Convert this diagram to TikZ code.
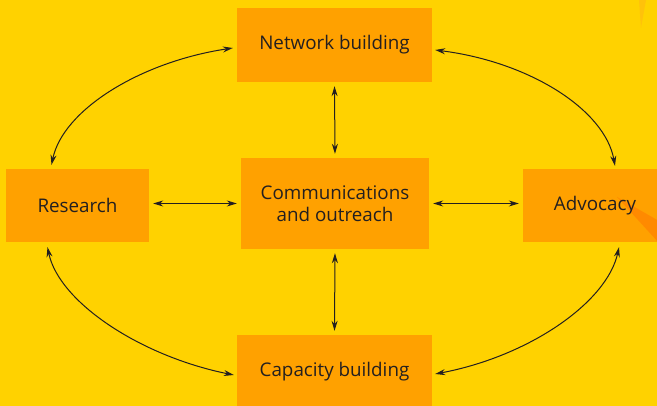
\documentclass[tikz,border=0pt]{standalone}
\usepackage{fontspec}
\setmainfont{Open Sans}
\usetikzlibrary{arrows.meta}
\definecolor{bgyellow}{HTML}{FFD200}
\definecolor{boxorange}{HTML}{FFA100}
\definecolor{swoosh}{HTML}{FF8A00}
\definecolor{sliver}{HTML}{FFC20A}
\definecolor{ink}{HTML}{231F20}
\tikzset{
  box/.style={fill=boxorange, draw=none, inner sep=0pt, align=center, text=ink, font=\fontsize{18.8}{22}\selectfont},
  link/.style={draw=ink, line width=1pt, {Stealth[length=10pt,width=6pt]}-{Stealth[length=10pt,width=6pt]}},
}
\begin{document}
\begin{tikzpicture}[x=1pt,y=1pt]
\clip (0,0) rectangle (657,406);
\fill[bgyellow] (0,0) rectangle (657,406);
\fill[sliver] (639,406) -- (646,406) .. controls (644,395) .. (641,378) .. controls (640,392) .. cycle;
% boxes
\node[box, minimum width=195pt, minimum height=74pt] (net) at (334.5,361) {Network building};
\node[box, minimum width=143pt, minimum height=73pt] (res) at (77.5,200.5) {Research};
\node[box, minimum width=188pt, minimum height=91pt] (com) at (335,202.5) {Communications\\and outreach};
\node[box, minimum width=144pt, minimum height=73pt] (adv) at (595,200.5) {};
\node[box, minimum width=195pt, minimum height=74pt] (cap) at (334.5,34) {Capacity building};
\begin{scope}
\clip (adv.south west) rectangle (adv.north east);
\fill[swoosh] (617,209) -- (680,173) -- (680,140) -- cycle;
\end{scope}
\node[box, fill=none] (advlabel) at (adv.center) {Advocacy};
% straight links
\draw[link, shorten <=4pt, shorten >=4pt] (net.south) -- (com.north);
\draw[link, shorten <=4pt, shorten >=4pt] (com.south) -- (cap.north);
\draw[link, shorten <=4pt, shorten >=4pt] (res.east |- com.west) -- (com.west);
\draw[link, shorten <=4pt, shorten >=4pt] (com.east) -- (adv.west |- com.east);
% curved links
\draw[link] ([xshift=-26pt,yshift=4pt]res.north) .. controls (63,296) and (140,344) .. ([xshift=-4pt,yshift=-3pt]net.west);
\draw[link] ([xshift=-30pt,yshift=-5pt]res.south) .. controls (59,104) and (140,50) .. ([xshift=-3pt,yshift=-3pt]cap.west);
\draw[link] ([xshift=3pt,yshift=-2pt]cap.east) .. controls (530,50) and (607,104) .. ([xshift=24pt,yshift=-5pt]adv.south);
\draw[link] ([xshift=3pt,yshift=-5pt]net.east) .. controls (530,344) and (605,296) .. ([xshift=20pt,yshift=3pt]adv.north);
\end{tikzpicture}
\end{document}
